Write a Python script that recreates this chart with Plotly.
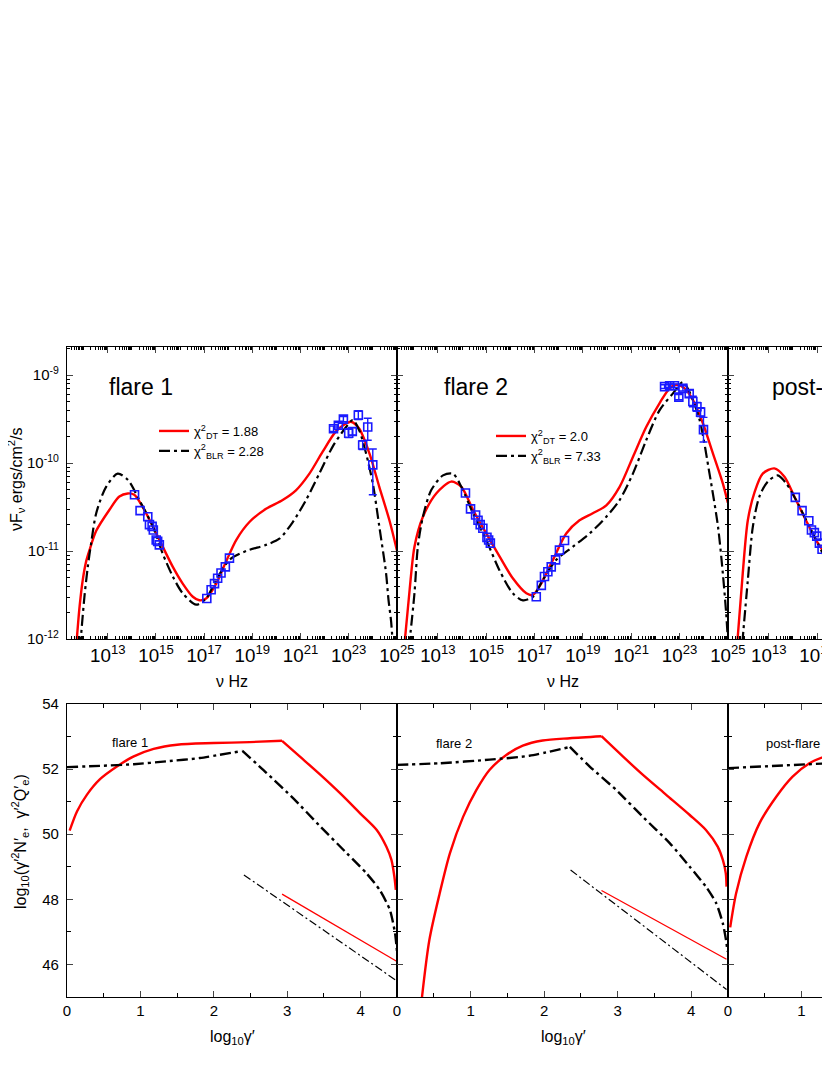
import plotly.graph_objects as go

OFF = 8            # page body margin in the browser
W, H = 830 - OFF, 1075 - OFF
FONT = "Arial, Liberation Sans, sans-serif"
RED = "#ff0000"
BLUE = "#1a1aff"

# ---------------- top row: SEDs, values are log10(nu / Hz) and log10(nuF_nu)
p1_dt_lognu = [11.70, 11.83, 11.96, 12.10, 12.24, 12.52, 13.07, 13.48, 13.83, 14.10, 14.45, 14.87, 15.28, 15.70,
               16.11, 16.53, 16.80, 17.08, 17.50, 17.91, 18.33, 18.88, 19.57, 20.26, 20.81, 21.37, 21.92, 22.47,
               22.89, 23.10, 23.44, 23.86, 24.27, 24.69, 25.0]
p1_dt_logf = [-12.05, -11.63, -11.33, -11.12, -10.99, -10.77, -10.53, -10.38, -10.345, -10.36, -10.50, -10.72,
              -10.95, -11.18, -11.37, -11.52, -11.56, -11.54, -11.37, -11.12, -10.875, -10.67, -10.52, -10.42,
              -10.31, -10.12, -9.87, -9.64, -9.55, -9.53, -9.61, -9.89, -10.27, -10.65, -10.99]
p1_blr_lognu = [11.85, 11.90, 12.03, 12.17, 12.31, 12.52, 12.93, 13.41, 13.83, 14.31, 14.87, 15.28, 15.70, 16.11,
                16.67, 17.08, 17.50, 18.05, 18.74, 19.57, 20.12, 20.68, 21.23, 21.78, 22.34, 22.89, 23.17, 23.44,
                23.72, 24.00, 24.27, 24.55, 24.65, 24.76, 24.84]
p1_blr_logf = [-12.1, -11.93, -11.52, -11.18, -10.91, -10.57, -10.27, -10.12, -10.19, -10.42, -10.72, -11.03,
               -11.29, -11.48, -11.61, -11.54, -11.33, -11.10, -11.0, -10.93, -10.86, -10.67, -10.42, -10.12,
               -9.81, -9.59, -9.51, -9.63, -9.89, -10.23, -10.72, -11.25, -11.55, -11.80, -12.1]
p1_obs_lognu = [14.11, 14.34, 14.66, 14.73, 14.84, 14.89, 15.01, 15.07, 15.14,
                17.11, 17.29, 17.43, 17.56, 17.70, 17.88, 18.05]
p1_obs_logf = [-10.36, -10.54, -10.61, -10.70, -10.72, -10.76, -10.875, -10.89, -10.93,
               -11.54, -11.44, -11.37, -11.31, -11.25, -11.18, -11.08]
p1_gam_lognu = [22.37, 22.57, 22.78, 23.00, 23.15, 23.40, 23.58, 23.79, 24.00]
p1_gam_logf = [-9.61, -9.57, -9.50, -9.66, -9.64, -9.455, -9.795, -9.59, -10.02]
p1_gam_up = [0.03, 0.03, 0.03, 0.05, 0.04, 0.05, 0.05, 0.10, 0.18]
p1_gam_dn = [0.03, 0.03, 0.03, 0.05, 0.04, 0.05, 0.05, 0.15, 0.34]

p2_dt_lognu = [11.62, 11.83, 12.03, 12.38, 12.93, 13.55, 13.97, 14.45, 15.0, 15.55, 16.10, 16.66, 16.93, 17.21,
               17.76, 18.31, 18.86, 19.41, 19.97, 20.52, 21.07, 21.62, 22.17, 22.59, 22.86, 23.21, 23.55, 23.97,
               24.38, 24.79, 25.0]
p2_dt_logf = [-12.05, -11.44, -10.95, -10.61, -10.345, -10.21, -10.27, -10.53, -10.80, -11.06, -11.31, -11.48,
              -11.50, -11.40, -11.10, -10.80, -10.65, -10.57, -10.48, -10.27, -9.93, -9.59, -9.32, -9.15, -9.11,
              -9.15, -9.28, -9.55, -9.89, -10.23, -10.45]
p2_blr_lognu = [11.80, 12.03, 12.17, 12.38, 12.72, 13.21, 13.62, 13.97, 14.45, 15.0, 15.55, 16.10, 16.52, 16.93,
                17.34, 17.90, 18.59, 19.28, 19.97, 20.52, 21.07, 21.62, 22.17, 22.72, 23.14, 23.41, 23.83, 24.24,
                24.59, 24.79, 24.93, 25.02]
p2_blr_logf = [-12.1, -11.48, -10.95, -10.61, -10.31, -10.14, -10.12, -10.27, -10.57, -10.875, -11.22, -11.48,
               -11.56, -11.52, -11.33, -11.10, -10.95, -10.80, -10.61, -10.42, -10.12, -9.74, -9.40, -9.21, -9.08,
               -9.19, -9.51, -10.12, -10.72, -11.25, -11.71, -12.1]
p2_obs_lognu = [14.14, 14.35, 14.56, 14.66, 14.75, 14.86, 15.03, 15.10, 15.17,
                17.07, 17.28, 17.41, 17.55, 17.69, 17.87, 18.03, 18.24]
p2_obs_logf = [-10.34, -10.52, -10.59, -10.65, -10.70, -10.74, -10.845, -10.875, -10.91,
               -11.52, -11.39, -11.29, -11.235, -11.18, -11.10, -10.99, -10.88]
p2_gam_lognu = [22.38, 22.59, 22.79, 22.97, 23.14, 23.40, 23.55, 23.72, 23.87, 23.99]
p2_gam_logf = [-9.13, -9.12, -9.12, -9.25, -9.15, -9.21, -9.30, -9.36, -9.42, -9.62]
p2_gam_up = [0.02, 0.02, 0.02, 0.03, 0.03, 0.04, 0.06, 0.05, 0.05, 0.14]
p2_gam_dn = [0.02, 0.02, 0.02, 0.03, 0.03, 0.04, 0.06, 0.05, 0.05, 0.14]

p3_dt_lognu = [11.69, 11.92, 12.13, 12.41, 12.75, 13.23, 13.65, 14.06, 14.54, 14.96, 15.23, 15.51]
p3_dt_logf = [-12.05, -11.25, -10.65, -10.33, -10.12, -10.06, -10.155, -10.38, -10.65, -10.875, -10.99, -11.14]
p3_blr_lognu = [11.90, 12.13, 12.34, 12.61, 12.96, 13.37, 13.72, 14.13, 14.68, 15.10, 15.51]
p3_blr_logf = [-12.05, -11.33, -10.72, -10.38, -10.21, -10.14, -10.23, -10.42, -10.72, -10.95, -11.18]
p3_obs_lognu = [14.10, 14.38, 14.66, 14.77, 14.89, 14.99, 15.10, 15.21]
p3_obs_logf = [-10.39, -10.54, -10.655, -10.76, -10.79, -10.83, -10.91, -10.98]

legend_labels = {
    1: ["χ<sup>2</sup><sub>DT</sub> = 1.88", "χ<sup>2</sup><sub>BLR</sub> = 2.28"],
    2: ["χ<sup>2</sup><sub>DT</sub> = 2.0", "χ<sup>2</sup><sub>BLR</sub> = 7.33"],
}
top_titles = ["flare 1", "flare 2", "post-flare"]
top_y_exps = [-12, -11, -10, -9]
top_y_ticktext = ["10<sup>-12</sup>", "10<sup>-11</sup>", "10<sup>-10</sup>", "10<sup>-9</sup>"]

# ---------------- bottom row: electron spectra, log10(gamma') and log10(gamma'^2 N'_e), log10(gamma'^2 Q'_e)
b1_ndt_lg = [0.036, 0.136, 0.27, 0.45, 0.68, 0.91, 1.18, 1.50, 2.0, 2.49, 2.93, 3.17, 3.45, 3.72, 3.99, 4.22,
             4.35, 4.42, 4.46, 4.48]
b1_ndt_v = [50.11, 50.70, 51.21, 51.69, 52.08, 52.39, 52.62, 52.75, 52.80, 52.83, 52.87, 52.39, 51.83, 51.26,
            50.65, 50.13, 49.62, 49.21, 48.70, 48.29]
b1_nblr_lg = [0.0, 0.45, 0.91, 1.36, 1.81, 2.39, 2.72, 3.08, 3.45, 3.81, 4.08, 4.26, 4.40, 4.47, 4.49, 4.50]
b1_nblr_v = [52.06, 52.10, 52.15, 52.24, 52.34, 52.56, 51.88, 51.11, 50.24, 49.42, 48.80, 48.29, 47.67, 46.95,
             46.54, 46.3]
b1_qdt_lg = [2.93, 4.49]
b1_qdt_v = [48.16, 46.10]
b1_qblr_lg = [2.41, 4.49]
b1_qblr_v = [48.75, 45.50]

b2_ndt_lg = [0.33, 0.44, 0.58, 0.72, 0.90, 1.08, 1.26, 1.49, 1.71, 1.98, 2.35, 2.78, 3.07, 3.34, 3.66, 3.98,
             4.20, 4.36, 4.43, 4.47, 4.48]
b2_ndt_v = [44.8, 46.75, 48.18, 49.42, 50.54, 51.36, 51.98, 52.44, 52.72, 52.88, 52.95, 53.01, 52.39, 51.83,
            51.21, 50.59, 50.13, 49.62, 49.21, 48.80, 48.39]
b2_nblr_lg = [0.0, 0.58, 1.26, 1.80, 2.35, 2.62, 2.98, 3.34, 3.71, 3.98, 4.20, 4.34, 4.43, 4.48, 4.49]
b2_nblr_v = [52.13, 52.18, 52.29, 52.41, 52.68, 52.08, 51.36, 50.54, 49.72, 49.0, 48.39, 47.88, 47.26, 46.65, 46.4]
b2_qdt_lg = [2.78, 4.48]
b2_qdt_v = [48.27, 46.16]
b2_qblr_lg = [2.36, 4.48]
b2_qblr_v = [48.90, 45.23]

b3_ndt_lg = [0.03, 0.11, 0.25, 0.43, 0.66, 0.88, 1.11, 1.38]
b3_ndt_v = [47.14, 48.18, 49.31, 50.34, 51.16, 51.77, 52.18, 52.44]
b3_nblr_lg = [0.0, 1.38]
b3_nblr_v = [52.03, 52.18]

bottom_titles = ["flare 1", "flare 2", "post-flare"]

# ---------------- layout geometry (screen pixels)
col_px = [(67, 397), (397, 728), (728, 830)]
top_px = (347, 639)
bot_px = (704, 997)
PXD_NU = 24.1      # pixels per decade (top)
PXU_G = 73.4       # pixels per unit log gamma (bottom)
NU_END = 25.0
TOP_YR = [-12, -8.68]


def fx(px):
    return (px - OFF) / W


def fy(py):
    return 1 - (py - OFF) / H


def pw(v):
    return [10 ** a for a in v]


def split_at_peak(xs, ys):
    """Split a broken power law at its break (maximum) so the corner stays sharp."""
    k = max(range(len(ys)), key=lambda j: ys[j])
    if k == 0 or k == len(ys) - 1:
        return [(xs, ys)]
    return [(xs[:k + 1], ys[:k + 1]), (xs[k:], ys[k:])]


fig = go.Figure()

DASH_THICK = "11px,4px,3px,4px"
DASH_THIN = "8px,3px,2px,3px"

sed = [
    (p1_dt_lognu, p1_dt_logf, p1_blr_lognu, p1_blr_logf, p1_obs_lognu, p1_obs_logf,
     p1_gam_lognu, p1_gam_logf, p1_gam_up, p1_gam_dn),
    (p2_dt_lognu, p2_dt_logf, p2_blr_lognu, p2_blr_logf, p2_obs_lognu, p2_obs_logf,
     p2_gam_lognu, p2_gam_logf, p2_gam_up, p2_gam_dn),
    (p3_dt_lognu, p3_dt_logf, p3_blr_lognu, p3_blr_logf, p3_obs_lognu, p3_obs_logf,
     None, None, None, None),
]

for i, (dx, dy, bx, by, ox, oy, gx, gy, gu, gd) in enumerate(sed):
    xa = "x" if i == 0 else f"x{i+1}"
    ya = "y" if i == 0 else f"y{i+1}"
    leg = "legend" if i == 0 else "legend2"
    show = i < 2
    fig.add_trace(go.Scatter(x=pw(dx), y=pw(dy), mode="lines", xaxis=xa, yaxis=ya,
                             line=dict(color=RED, width=2.4, shape="spline", smoothing=0.8),
                             name=legend_labels[i + 1][0] if show else "", showlegend=show, legend=leg))
    fig.add_trace(go.Scatter(x=pw(bx), y=pw(by), mode="lines", xaxis=xa, yaxis=ya,
                             line=dict(color="black", width=2.2, dash=DASH_THICK, shape="spline", smoothing=0.8),
                             name=legend_labels[i + 1][1] if show else "", showlegend=show, legend=leg))
    fig.add_trace(go.Scatter(x=pw(ox), y=pw(oy), mode="markers", xaxis=xa, yaxis=ya, showlegend=False,
                             marker=dict(symbol="square-open", size=8, color=BLUE, line=dict(width=1.6, color=BLUE))))
    if gx is not None:
        yv = pw(gy)
        up = [10 ** (a + u) - 10 ** a for a, u in zip(gy, gu)]
        dn = [10 ** a - 10 ** (a - d) for a, d in zip(gy, gd)]
        fig.add_trace(go.Scatter(x=pw(gx), y=yv, mode="markers", xaxis=xa, yaxis=ya, showlegend=False,
                                 marker=dict(symbol="square-open", size=8, color=BLUE,
                                             line=dict(width=1.6, color=BLUE)),
                                 error_y=dict(type="data", symmetric=False, array=up, arrayminus=dn,
                                              color=BLUE, thickness=1.4, width=4)))

bottom = [
    (b1_ndt_lg, b1_ndt_v, b1_nblr_lg, b1_nblr_v, b1_qdt_lg, b1_qdt_v, b1_qblr_lg, b1_qblr_v),
    (b2_ndt_lg, b2_ndt_v, b2_nblr_lg, b2_nblr_v, b2_qdt_lg, b2_qdt_v, b2_qblr_lg, b2_qblr_v),
    (b3_ndt_lg, b3_ndt_v, b3_nblr_lg, b3_nblr_v, None, None, None, None),
]
for i, (nx, ny, mx, my, qx, qy, rx, ry) in enumerate(bottom):
    xa = f"x{i+4}"
    ya = f"y{i+4}"
    for sx, sy in split_at_peak(nx, ny):
        fig.add_trace(go.Scatter(x=sx, y=sy, mode="lines", xaxis=xa, yaxis=ya, showlegend=False,
                                 line=dict(color=RED, width=2.4, shape="spline", smoothing=0.8)))
    for sx, sy in split_at_peak(mx, my):
        fig.add_trace(go.Scatter(x=sx, y=sy, mode="lines", xaxis=xa, yaxis=ya, showlegend=False,
                                 line=dict(color="black", width=2.4, dash=DASH_THICK, shape="spline",
                                           smoothing=0.6)))
    if qx is not None:
        fig.add_trace(go.Scatter(x=qx, y=qy, mode="lines", xaxis=xa, yaxis=ya, showlegend=False,
                                 line=dict(color=RED, width=1.3)))
        fig.add_trace(go.Scatter(x=rx, y=ry, mode="lines", xaxis=xa, yaxis=ya, showlegend=False,
                                 line=dict(color="black", width=1.2, dash=DASH_THIN)))

tickfont = dict(family=FONT, size=15, color="black")
layout = dict(width=W, height=H, autosize=False, margin=dict(l=0, r=0, t=0, b=0, autoexpand=False),
              paper_bgcolor="white", plot_bgcolor="white", font=dict(family=FONT, color="black"))

for i, (l, r) in enumerate(col_px):
    last = i == 2
    # top row
    nu0 = NU_END - (col_px[0][1] - col_px[0][0]) / PXD_NU
    xr = [nu0, NU_END + 0.005] if not last else [nu0, nu0 + (r - l) / PXD_NU]
    xk = "xaxis" if i == 0 else f"xaxis{i+1}"
    yk = "yaxis" if i == 0 else f"yaxis{i+1}"
    layout[xk] = dict(domain=[fx(l), fx(r)], anchor="y" if i == 0 else f"y{i+1}", type="log",
                      range=xr, automargin=False, ticklabeloverflow="allow",
                      dtick=2, tick0=1, exponentformat="power", ticks="inside", ticklen=6, tickwidth=1,
                      showline=True, linecolor="black", linewidth=1.2, mirror="ticks", showgrid=False,
                      zeroline=False, tickfont=tickfont,
                      minor=dict(ticks="inside", ticklen=3, dtick="D1", tickcolor="black", showgrid=False))
    layout[yk] = dict(domain=[fy(top_px[1]), fy(top_px[0])], anchor="x" if i == 0 else f"x{i+1}", type="log",
                      range=TOP_YR, tickmode="array", tickvals=[10 ** e for e in top_y_exps],
                      ticktext=top_y_ticktext, ticks="inside", ticklen=6, tickwidth=1,
                      showline=True, linecolor="black", linewidth=1.2, mirror=False if last else "ticks",
                      showgrid=False, zeroline=False, showticklabels=(i == 0), tickfont=tickfont,
                      ticklabelstandoff=4, automargin=False, ticklabeloverflow="allow",
                      minor=dict(ticks="inside", ticklen=3, dtick="D1", tickcolor="black", showgrid=False))
    # bottom row
    gr_end = (r - l) / PXU_G
    layout[f"xaxis{i+4}"] = dict(domain=[fx(l), fx(r)], anchor=f"y{i+4}", automargin=False,
                                 range=[0, min(gr_end, 4.5)], dtick=1, tick0=0, ticks="inside", ticklen=6,
                                 showline=True, linecolor="black", linewidth=1.2, mirror="ticks",
                                 showgrid=False, zeroline=False, tickfont=tickfont, ticklabeloverflow="allow",
                                 minor=dict(ticks="inside", ticklen=4, dtick=0.5, tickcolor="black",
                                            showgrid=False))
    layout[f"yaxis{i+4}"] = dict(domain=[fy(bot_px[1]), fy(bot_px[0])], anchor=f"x{i+4}", automargin=False,
                                 range=[45, 54], dtick=2, tick0=0, ticks="inside", ticklen=6,
                                 showline=True, linecolor="black", linewidth=1.2,
                                 mirror=False if last else "ticks", showgrid=False, zeroline=False,
                                 showticklabels=(i == 0), tickfont=tickfont, ticklabelstandoff=4,
                                 minor=dict(ticks="inside", ticklen=4, dtick=1, tickcolor="black",
                                            showgrid=False))

legend_common = dict(xanchor="left", yanchor="top", bgcolor="rgba(0,0,0,0)", borderwidth=0,
                     font=dict(family=FONT, size=13, color="black"), tracegroupgap=0, itemwidth=30)
layout["legend"] = dict(x=fx(154), y=fy(416), **legend_common)
layout["legend2"] = dict(x=fx(491), y=fy(421), **legend_common)

ann = []
big = dict(family=FONT, size=23, color="black")
ann.append(dict(text=top_titles[0], x=fx(107), y=fy(387), xanchor="left", yanchor="middle", font=big))
ann.append(dict(text=top_titles[1], x=fx(442), y=fy(387), xanchor="left", yanchor="middle", font=big))
ann.append(dict(text=top_titles[2], x=fx(770), y=fy(387), xanchor="left", yanchor="middle", font=big))
small = dict(family=FONT, size=13, color="black")
ann.append(dict(text=bottom_titles[0], x=fx(110), y=fy(742), xanchor="left", yanchor="middle", font=small))
ann.append(dict(text=bottom_titles[1], x=fx(434), y=fy(743), xanchor="left", yanchor="middle", font=small))
ann.append(dict(text=bottom_titles[2], x=fx(764), y=fy(743), xanchor="left", yanchor="middle", font=small))
tf = dict(family=FONT, size=16, color="black")
ann.append(dict(text="νF<sub>ν</sub> ergs/cm<sup>2</sup>/s", x=fx(16), y=fy(480), textangle=-90,
                xanchor="center", yanchor="middle", font=tf))
ann.append(dict(text="log<sub>10</sub>(γ′<sup>2</sup>N′<sub>e</sub>,  γ′<sup>2</sup>Q′<sub>e</sub>)",
                x=fx(20), y=fy(842), textangle=-90, xanchor="center", yanchor="middle", font=tf))
for cx in (232, 563):
    ann.append(dict(text="ν Hz", x=fx(cx), y=fy(682), xanchor="center", yanchor="middle", font=tf))
    ann.append(dict(text="log<sub>10</sub>γ′", x=fx(cx), y=fy(1037), xanchor="center", yanchor="middle", font=tf))
for a in ann:
    a.update(xref="paper", yref="paper", showarrow=False)
layout["annotations"] = ann

fig.update_layout(**layout)
fig.write_html("out.html", config={"displayModeBar": False})
